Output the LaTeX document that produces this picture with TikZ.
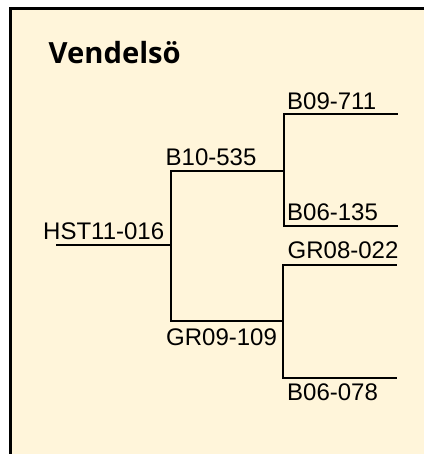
\documentclass[tikz,border=0pt]{standalone}
\usepackage{fontspec}
\setmainfont{Liberation Sans}
\newfontfamily\titlefont{Open Sans}
\definecolor{cream}{RGB}{255,245,218}
\begin{document}
\begin{tikzpicture}[x=1pt,y=-1pt,
  lbl/.style={anchor=base west,inner sep=0pt,font=\fontsize{24}{24}\selectfont},
  branch/.style={line width=2pt,line cap=rect},
  frame/.style={line width=3pt,black}]
\useasboundingbox (0,0) rectangle (424,454);
\fill[cream] (10.5,8.5) rectangle (424,454);
\coordinate (tl) at (10.5,8.5);
\coordinate (tr) at (424,8.5);
\coordinate (bl) at (10.5,454);
\draw[frame] (tr) -- (tl) -- (bl);
\node[anchor=base west,inner sep=0pt,font=\titlefont\bfseries\fontsize{29.2}{29.2}\selectfont] (title) at (48.5,63.3) {Vendelsö};
% labels
\node[lbl] (hst) at (43,239.3) {HST11-016};
\node[lbl] (b10) at (165.5,165.7) {B10-535};
\node[lbl] (b09) at (287,109.3) {B09-711};
\node[lbl] (b06a) at (287,220.3) {B06-135};
\node[lbl] (gr08) at (287.5,258.7) {GR08-022};
\node[lbl] (gr09) at (166,345) {GR09-109};
\node[lbl] (b06b) at (287,400.3) {B06-078};
% tree coordinates
\coordinate (r0) at (57,245.3);
\coordinate (j1) at (171,245.3);
\coordinate (j1t) at (171,170.7);
\coordinate (j1b) at (171,320.7);
\coordinate (j2) at (284,170.7);
\coordinate (j2t) at (284,114);
\coordinate (j2b) at (284,226);
\coordinate (e09) at (397,114);
\coordinate (e06a) at (397,226);
\coordinate (j3) at (283.3,320.7);
\coordinate (j3t) at (283.3,264.7);
\coordinate (j3b) at (283.3,377.7);
\coordinate (e08) at (396,264.7);
\coordinate (e06b) at (396,377.7);
\draw[branch] (r0) -- (j1);
\draw[branch] (j1t) -- (j1b);
\draw[branch] (j1t) -- (j2);
\draw[branch] (j2t) -- (j2b);
\draw[branch] (j2t) -- (e09);
\draw[branch] (j2b) -- (e06a);
\draw[branch] (j1b) -- (j3);
\draw[branch] (j3t) -- (j3b);
\draw[branch] (j3t) -- (e08);
\draw[branch] (j3b) -- (e06b);
\end{tikzpicture}
\end{document}
